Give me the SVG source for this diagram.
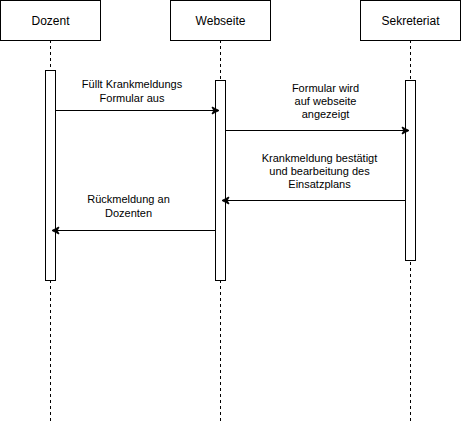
<svg xmlns="http://www.w3.org/2000/svg" width="461" height="421" viewBox="0 0 461 421">
<style>
.box{fill:#fff;stroke:#000;stroke-width:1}
.life{stroke:#000;stroke-width:1;stroke-dasharray:3 3;fill:none}
.msg{stroke:#000;stroke-width:1;fill:none;marker-end:url(#arr)}
.hd{font-family:"Liberation Sans",Arial,sans-serif;font-size:12px;fill:#000;text-anchor:middle}
.lb{font-family:"Liberation Sans",Arial,sans-serif;font-size:11px;fill:#000;text-anchor:middle}
</style>
<defs>
<marker id="arr" markerUnits="userSpaceOnUse" markerWidth="10" markerHeight="10" viewBox="0 0 10 10" refX="4.5" refY="5" orient="auto">
<path d="M1,1.5 L8,5 L1,8.5 L2.8,5 Z" fill="#000" stroke="#000" stroke-width="1"/>
</marker>
</defs>
<g id="lifelines">
<line class="life" x1="50.5" y1="40" x2="50.5" y2="421"/>
<line class="life" x1="220.5" y1="40" x2="220.5" y2="421"/>
<line class="life" x1="410.5" y1="40" x2="410.5" y2="421"/>
</g>
<g id="dozent">
<rect class="box" x="0.5" y="0.5" width="100" height="40"/>
<text class="hd" x="50.5" y="24.5">Dozent</text>
<rect class="box" x="45.5" y="70.5" width="10" height="210"/>
</g>
<g id="webseite">
<rect class="box" x="170.5" y="0.5" width="100" height="40"/>
<text class="hd" x="220.5" y="24.5">Webseite</text>
<rect class="box" x="215.5" y="80.5" width="10" height="200"/>
</g>
<g id="sekreteriat">
<rect class="box" x="360.5" y="0.5" width="100" height="40"/>
<text class="hd" x="410.5" y="24.5">Sekreteriat</text>
<rect class="box" x="405.5" y="80.5" width="10" height="180"/>
</g>
<g id="connectors">
<line class="msg" x1="55.5" y1="110.5" x2="215.5" y2="110.5"/>
<line class="msg" x1="225.5" y1="130.5" x2="405.5" y2="130.5"/>
<line class="msg" x1="405.5" y1="200.5" x2="225.5" y2="200.5"/>
<line class="msg" x1="215.5" y1="230.5" x2="55.5" y2="230.5"/>
</g>
<g id="labels">
<text class="lb" x="132" y="88">Füllt Krankmeldungs</text>
<text class="lb" x="132" y="102">Formular aus</text>
<text class="lb" x="325.5" y="92">Formular wird</text>
<text class="lb" x="325.5" y="105">auf webseite</text>
<text class="lb" x="325.5" y="118">angezeigt</text>
<text class="lb" x="319.5" y="162">Krankmeldung bestätigt</text>
<text class="lb" x="319.5" y="175">und bearbeitung des</text>
<text class="lb" x="319.5" y="188">Einsatzplans</text>
<text class="lb" x="128.5" y="203">Rückmeldung an</text>
<text class="lb" x="128.5" y="217">Dozenten</text>
</g>
</svg>
